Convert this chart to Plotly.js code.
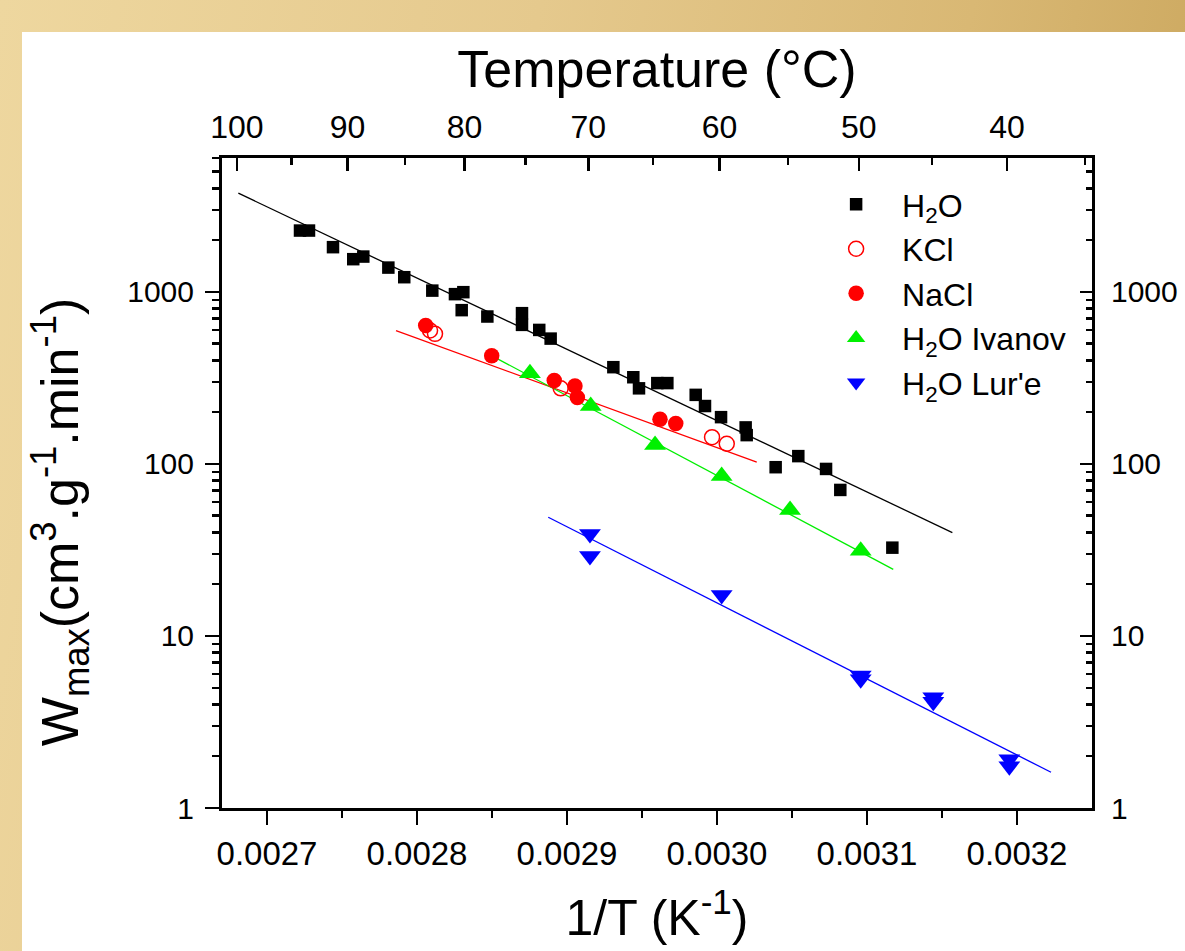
<!DOCTYPE html>
<html>
<head>
<meta charset="utf-8">
<script src="https://cdn.plot.ly/plotly-3.0.1.min.js"></script>
<style>
  html, body { margin: 0; padding: 0; }
  #bg { position: absolute; left: 0; top: 0; width: 1185px; height: 951px;
        background: linear-gradient(100deg, #eed79f 0%, #e5c98d 40%, #d9b874 72%, #c7a257 100%); }
  #panel { position: absolute; left: 22px; top: 32px; width: 1163px; height: 919px; background: #ffffff; }
  #chart { position: absolute; left: 0; top: 0; width: 1185px; height: 951px; }
</style>
</head>
<body>
<div id="bg"></div>
<div id="panel"></div>
<div id="chart"></div>
<script>
// ---- data ----
const h2oX = [0.002722, 0.002728, 0.002744, 0.0027575, 0.0027642, 0.0027809, 0.0027915, 0.0028102,
              0.0028253, 0.0028309, 0.0028298, 0.0028469, 0.00287, 0.00287, 0.0028815, 0.0028891,
              0.0029309, 0.0029442, 0.002948, 0.0029602, 0.0029669, 0.0029858, 0.002992, 0.0030027,
              0.0030191, 0.0030198, 0.0030391, 0.0030542, 0.0030727, 0.0030822, 0.0031169];
const h2oY = [2272, 2272, 1819, 1549, 1604, 1384, 1217, 1017,
              970, 996, 783, 719, 752, 643, 601, 535,
              365, 319, 275, 295, 295, 252, 217, 187,
              163, 147, 95.7, 111, 93.5, 70.6, 32.6];

const kclX = [0.0028087, 0.002812, 0.0028958, 0.0029967, 0.0030065];
const kclY = [596, 570, 275, 143, 131];

const naclX = [0.0028058, 0.0028498, 0.0028915, 0.0029053, 0.0029069, 0.002962, 0.0029725];
const naclY = [637, 425, 305, 284, 243, 182, 172];

const ivanovX = [0.0028753, 0.0029158, 0.0029587, 0.0030031, 0.0030487, 0.0030958];
const ivanovY = [337, 217, 129, 85.2, 54, 31.3];

const lureX = [0.0029153, 0.0029153, 0.0030031, 0.0030958, 0.0030958, 0.0031442, 0.0031442, 0.0031949, 0.0031949];
const lureY = [39.2, 29.2, 17.3, 5.9, 5.6, 4.4, 4.15, 1.92, 1.75];

// fitted lines (end points)
const h2oFitX = [0.0026809, 0.0031569];
const h2oFitY = [3748, 39.9];
const saltFitX = [0.002786, 0.0030265];
const saltFitY = [596, 102.3];
const ivanovFitX = [0.0028509, 0.0031175];
const ivanovFitY = [420.6, 24.4];
const lureFitX = [0.0028875, 0.0032227];
const lureFitY = [49, 1.613];

// axis ticks / labels
const xTickVals = [0.0027, 0.0028, 0.0029, 0.0030, 0.0031, 0.0032];
const xTickText = ['0.0027', '0.0028', '0.0029', '0.0030', '0.0031', '0.0032'];
const yTickVals = [1, 10, 100, 1000];
const yTickText = ['1', '10', '100', '1000'];
const tempMajor = [100, 90, 80, 70, 60, 50, 40];
const tempMajorText = ['100', '90', '80', '70', '60', '50', '40'];
const tempMinor = [95, 85, 75, 65, 55, 45, 35];

const legendNames = ['H<sub>2</sub>O', 'KCl', 'NaCl', 'H<sub>2</sub>O Ivanov', "H<sub>2</sub>O Lur'e"];
const yTitle = 'W<sub>max</sub>(cm<sup>3</sup>.g<sup>-1</sup>.min<sup>-1</sup>)';
const xTitle = '1/T (K<sup>-1</sup>)';
const topTitle = 'Temperature (°C)';

// ---- derived tick positions ----
const toInvT = t => 1 / (t + 273.15);
const yMinor = [];
[1, 10, 100, 1000].forEach(d => { for (let k = 2; k <= 9; k++) { if (d * k <= 6000) yMinor.push(d * k); } });
const xMinor = [0.00275, 0.00285, 0.00295, 0.00305, 0.00315];

const FONT = 'Liberation Sans, Arial, Helvetica, sans-serif';
const xRange = [0.00267, 0.00325];
const yRange = [0, Math.log10(6000)];

function fit(x, y, color) {
  return { x: x, y: y, type: 'scatter', mode: 'lines', showlegend: false, hoverinfo: 'skip',
           line: { color: color, width: 1.3 } };
}
function pts(x, y, name, symbol, color, size, lw) {
  return { x: x, y: y, type: 'scatter', mode: 'markers', name: name,
           marker: { symbol: symbol, size: size, color: color, line: { color: color, width: lw } } };
}
// invisible carriers so the top and right axes get drawn
function carrier(xa, ya) {
  return { x: h2oX, y: h2oY, xaxis: xa, yaxis: ya, type: 'scatter', mode: 'markers',
           showlegend: false, hoverinfo: 'skip', marker: { opacity: 0, size: 1 } };
}

const traces = [
  carrier('x2', 'y'),
  carrier('x', 'y2'),
  fit(h2oFitX, h2oFitY, '#000000'),
  fit(saltFitX, saltFitY, '#ff0000'),
  fit(ivanovFitX, ivanovFitY, '#00ee00'),
  fit(lureFitX, lureFitY, '#0000ff'),
  pts(h2oX, h2oY, legendNames[0], 'square', '#000000', 12.5, 0),
  pts(kclX, kclY, legendNames[1], 'circle-open', '#ff0000', 15, 1.5),
  pts(naclX, naclY, legendNames[2], 'circle', '#ff0000', 15.5, 0),
  pts(ivanovX, ivanovY, legendNames[3], 'triangle-up', '#00f000', 19, 0),
  pts(lureX, lureY, legendNames[4], 'triangle-down', '#0000ff', 19, 0)
];

const layout = {
  width: 1185, height: 951,
  paper_bgcolor: 'rgba(0,0,0,0)', plot_bgcolor: 'rgba(0,0,0,0)',
  margin: { l: 222, r: 93, t: 158, b: 143 },
  font: { family: FONT, color: '#000000' },
  showlegend: true,
  legend: { x: 0.676, y: 0.971, xanchor: 'left', yanchor: 'top', bgcolor: 'rgba(0,0,0,0)',
            font: { size: 32, family: FONT }, tracegroupgap: 0, itemwidth: 82 },
  xaxis: {
    range: xRange, showgrid: false, zeroline: false,
    showline: true, linecolor: '#000', linewidth: 3,
    tickmode: 'array', tickvals: xTickVals, ticktext: xTickText,
    ticks: 'outside', ticklen: 14, tickwidth: 2.5, tickcolor: '#000',
    tickfont: { size: 33, family: FONT }, ticklabelstandoff: 0,
    minor: { tickmode: 'array', tickvals: xMinor, ticks: 'outside', ticklen: 7, tickwidth: 2.5, tickcolor: '#000' },
    title: { text: xTitle, font: { size: 50, family: FONT }, standoff: 30 }
  },
  xaxis2: {
    overlaying: 'x', side: 'top', anchor: 'y',
    range: xRange, showgrid: false, zeroline: false,
    showline: true, linecolor: '#000', linewidth: 3,
    tickmode: 'array', tickvals: tempMajor.map(toInvT), ticktext: tempMajorText,
    ticks: 'inside', ticklen: 13, tickwidth: 2.5, tickcolor: '#000',
    tickfont: { size: 32, family: FONT }, ticklabelstandoff: 4,
    minor: { tickmode: 'array', tickvals: tempMinor.map(toInvT), ticks: 'inside', ticklen: 7, tickwidth: 2.5, tickcolor: '#000' },
    title: { text: topTitle, font: { size: 52, family: FONT }, standoff: 6 }
  },
  yaxis: {
    type: 'log', range: yRange, showgrid: false, zeroline: false,
    showline: true, linecolor: '#000', linewidth: 3,
    tickmode: 'array', tickvals: yTickVals, ticktext: yTickText,
    ticks: 'outside', ticklen: 14, tickwidth: 2.5, tickcolor: '#000',
    tickfont: { size: 30, family: FONT }, ticklabelstandoff: 5,
    minor: { tickmode: 'array', tickvals: yMinor, ticks: 'outside', ticklen: 7, tickwidth: 2.5, tickcolor: '#000' }
  },
  yaxis2: {
    overlaying: 'y', side: 'right', anchor: 'x', type: 'log',
    range: yRange, showgrid: false, zeroline: false,
    showline: true, linecolor: '#000', linewidth: 3,
    tickmode: 'array', tickvals: yTickVals, ticktext: yTickText,
    ticks: 'inside', ticklen: 12, tickwidth: 2.5, tickcolor: '#000',
    tickfont: { size: 30, family: FONT }, ticklabelstandoff: 10,
    minor: { tickmode: 'array', tickvals: yMinor, ticks: 'inside', ticklen: 6, tickwidth: 2.5, tickcolor: '#000' }
  },
  annotations: [{
    text: yTitle, textangle: -90, xref: 'paper', yref: 'paper',
    x: -0.186, y: 0.44, xanchor: 'center', yanchor: 'middle', showarrow: false,
    font: { size: 52, family: FONT, color: '#000' }
  }]
};

Plotly.newPlot('chart', traces, layout, { displayModeBar: false, staticPlot: true });
</script>
</body>
</html>
